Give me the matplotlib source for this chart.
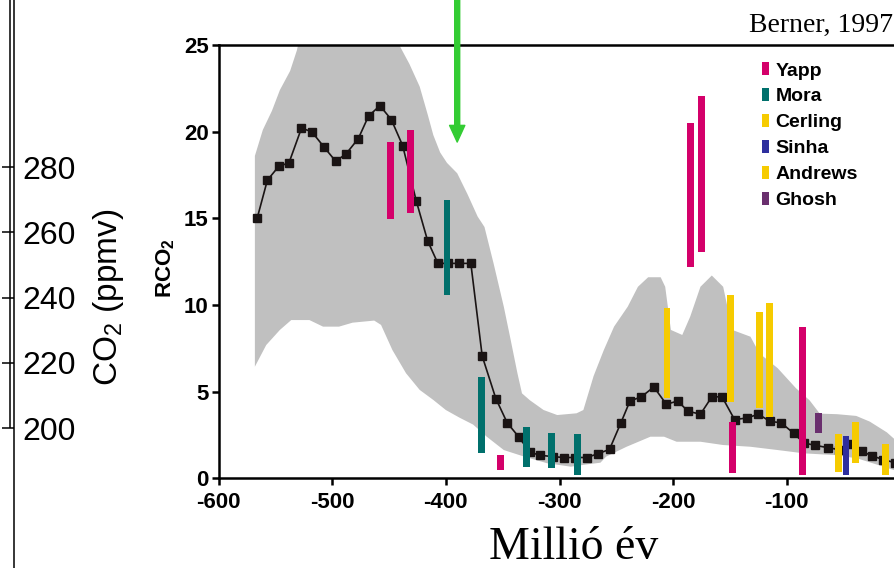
import matplotlib
matplotlib.use("Agg")
import matplotlib.pyplot as plt
import numpy as np

plt.rcParams['font.family'] = ['Liberation Sans', 'DejaVu Sans']
plt.rcParams['mathtext.default'] = 'regular'
plt.rcParams['axes.unicode_minus'] = False

# Berner (1997) GEOCARB RCO2 curve
ages = [-566, -557, -547, -538, -527, -518, -507, -497, -488, -477, -468, -458, -448, -438, -426,
        -416, -407, -398, -388, -378, -368, -356, -346, -336, -326, -317, -306, -296, -286, -276,
        -266, -256, -246, -238, -228, -217, -206, -196, -187, -176, -166, -157, -146, -135, -125,
        -115, -105, -94, -85, -75, -64, -54, -44, -34, -25, -15, -5]
rco2 = [15.0, 17.2, 18.0, 18.2, 20.2, 20.0, 19.1, 18.3, 18.7, 19.6, 20.9, 21.5, 20.7, 19.2, 16.0,
        13.7, 12.4, 12.4, 12.4, 12.4, 7.05, 4.6, 3.2, 2.4, 1.5, 1.33, 1.25, 1.2, 1.2, 1.2,
        1.42, 1.67, 3.2, 4.46, 4.7, 5.27, 4.27, 4.46, 3.87, 3.7, 4.7, 4.7, 3.39, 3.48, 3.7,
        3.29, 3.2, 2.6, 2.04, 1.9, 1.77, 1.65, 2.0, 1.56, 1.29, 1.08, 0.9]

# uncertainty band
band_up_x = [-568, -561, -553, -546, -537, -531, -530, -441, -432, -423, -416, -411, -405, -399,
             -390, -381, -372, -366, -358, -349, -343, -337, -333, -326, -314, -302, -285, -279,
             -270, -261, -252, -240, -231, -222, -211, -207, -202, -192, -185, -176, -166, -156,
             -148, -132, -124, -108, -92, -80, -71, -56, -39, -27, -12, -6, 0]
band_up = [18.6, 20.1, 21.2, 22.4, 23.5, 24.7, 25.0, 25.0, 23.9, 22.6, 21.0, 19.8, 18.8, 18.2,
           17.6, 16.4, 15.1, 14.5, 12.4, 9.9, 8.0, 6.06, 4.9, 4.5, 3.94, 3.65, 3.75, 3.94,
           5.9, 7.4, 8.75, 9.9, 11.05, 11.6, 11.6, 11.05, 8.56, 8.27, 9.33, 11.05, 11.7, 11.05,
           8.56, 8.17, 7.2, 6.35, 5.2, 4.5, 3.73, 3.7, 3.6, 3.27, 2.65, 2.3, 2.1]
band_lo_x = [-568, -558, -546, -536, -520, -508, -494, -482, -463, -457, -447, -435, -423, -411,
             -400, -388, -376, -364, -349, -331, -311, -290, -276, -264, -259, -241, -220, -208,
             -197, -176, -156, -132, -108, -85, -58, -38, -15, -6, 0]
band_lo = [6.44, 7.69, 8.56, 9.13, 9.13, 8.75, 8.75, 8.98, 9.1, 8.85, 7.4, 6.06, 5.1, 4.52,
           3.94, 3.5, 3.1, 2.4, 1.63, 1.25, 0.87, 0.67, 0.8, 0.9, 1.25, 1.82, 2.4, 2.4,
           2.11, 2.11, 1.92, 1.82, 1.63, 1.44, 1.34, 1.15, 0.67, 0.48, 0.4]

# proxy estimates (age, low, high)
yapp_x = [-449, -431, -352, -184.4, -175, -148, -86]
yapp_lo = [14.95, 15.3, 0.48, 12.2, 13.05, 0.29, 0.19]
yapp_hi = [19.4, 20.1, 1.34, 20.5, 22.06, 3.27, 8.71]
mora_x = [-399, -368.5, -329, -307, -284]
mora_lo = [10.58, 1.48, 0.67, 0.58, 0.19]
mora_hi = [16.06, 5.83, 2.94, 2.63, 2.54]
cerling_x = [-205.5, -149.4, -124, -115]
cerling_lo = [4.62, 4.42, 4.04, 3.55]
cerling_hi = [9.81, 10.58, 9.61, 10.1]
sinha_x = [-48]
sinha_lo = [0.19]
sinha_hi = [2.44]
andrews_x = [-54.3, -39.4, -13.2]
andrews_lo = [0.38, 0.87, 0.19]
andrews_hi = [2.54, 3.27, 1.96]
ghosh_x = [-72.5]
ghosh_lo = [2.63]
ghosh_hi = [3.75]

co2_ticks = [200, 220, 240, 260, 280]

fig = plt.figure(figsize=(8.94, 5.68), dpi=100)
ax = fig.add_axes([218.5 / 894, 1 - 478.3 / 568, 682 / 894, 433.3 / 568])

ax.fill(np.r_[band_up_x, band_lo_x[::-1]], np.r_[band_up, band_lo[::-1]],
        color='#c0c0c0', lw=0, zorder=1)
ax.plot(ages, rco2, color='#1a1414', lw=1.2, marker='s', markersize=6, zorder=2)

series = [('Yapp', yapp_x, yapp_lo, yapp_hi, '#d4006a'),
          ('Mora', mora_x, mora_lo, mora_hi, '#00706c'),
          ('Cerling', cerling_x, cerling_lo, cerling_hi, '#f6cb00'),
          ('Sinha', sinha_x, sinha_lo, sinha_hi, '#2e2f9e'),
          ('Andrews', andrews_x, andrews_lo, andrews_hi, '#f6cb00'),
          ('Ghosh', ghosh_x, ghosh_lo, ghosh_hi, '#6a2f6e')]
for name, xs, lo, hi, c in series:
    ax.bar(xs, np.array(hi) - np.array(lo), bottom=lo, width=6, color=c,
           label=name, zorder=3, lw=0)

ax.set_xlim(-600, 0)
ax.set_ylim(0, 25)
ax.set_xticks([-600, -500, -400, -300, -200, -100, 0])
ax.set_yticks([0, 5, 10, 15, 20, 25])
for s in ['left', 'bottom', 'top']:
    ax.spines[s].set_linewidth(1.8)
ax.spines['right'].set_visible(False)
ax.tick_params(direction='out', length=5, width=1.8, labelsize=16)
ax.tick_params(axis='y', pad=2)
ax.tick_params(axis='x', pad=5)
for lab in ax.get_xticklabels() + ax.get_yticklabels():
    lab.set_fontweight('bold')

leg = ax.legend(loc='upper left', bbox_to_anchor=(761.7 / 894, 1 - 62 / 568),
                bbox_transform=fig.transFigure, frameon=False, borderpad=0,
                borderaxespad=0, handlelength=0.35, handleheight=0.69,
                handletextpad=0.35, labelspacing=0.43,
                prop={'weight': 'bold', 'size': 14})

ax.annotate('', xy=(-390, 19.4), xytext=(-390, 27.7), annotation_clip=False,
            arrowprops=dict(color='#33cc33', width=3.6, headwidth=11, headlength=12, shrink=0))

# old CO2 axis on the left edge
ax2 = fig.add_axes([0, 0, 14.5 / 894, 1])
ax2.set_xlim(0, 1)
ax2.set_ylim(157.1, 331.2)
for s in ['left', 'bottom', 'top']:
    ax2.spines[s].set_visible(False)
ax2.spines['right'].set_linewidth(1.1)
ax2.set_xticks([])
ax2.yaxis.tick_right()
ax2.set_yticks(co2_ticks)
ax2.tick_params(axis='y', direction='in', length=8.6, width=1.1, pad=5.4, labelsize=23)
ax2.vlines(0.69, 200, 331.2, color='black', lw=1.1)
ax2.patch.set_visible(False)

fig.text(108 / 894, 1 - 297 / 568, 'CO$_2$ (ppmv)', rotation=90, fontsize=24,
         ha='center', va='center')
fig.text(166 / 894, 1 - 268 / 568, 'RCO$_2$', rotation=90, fontsize=16,
         fontweight='bold', ha='center', va='center')
fig.text(893 / 894, 1 - 32 / 568, 'Berner, 1997', fontsize=20,
         family='Liberation Serif', ha='right', va='baseline')
fig.text(573.5 / 894, 1 - 559 / 568, 'Millió év', fontsize=33,
         family='Liberation Serif', ha='center', va='baseline')

fig.savefig('out.png', dpi=100)
